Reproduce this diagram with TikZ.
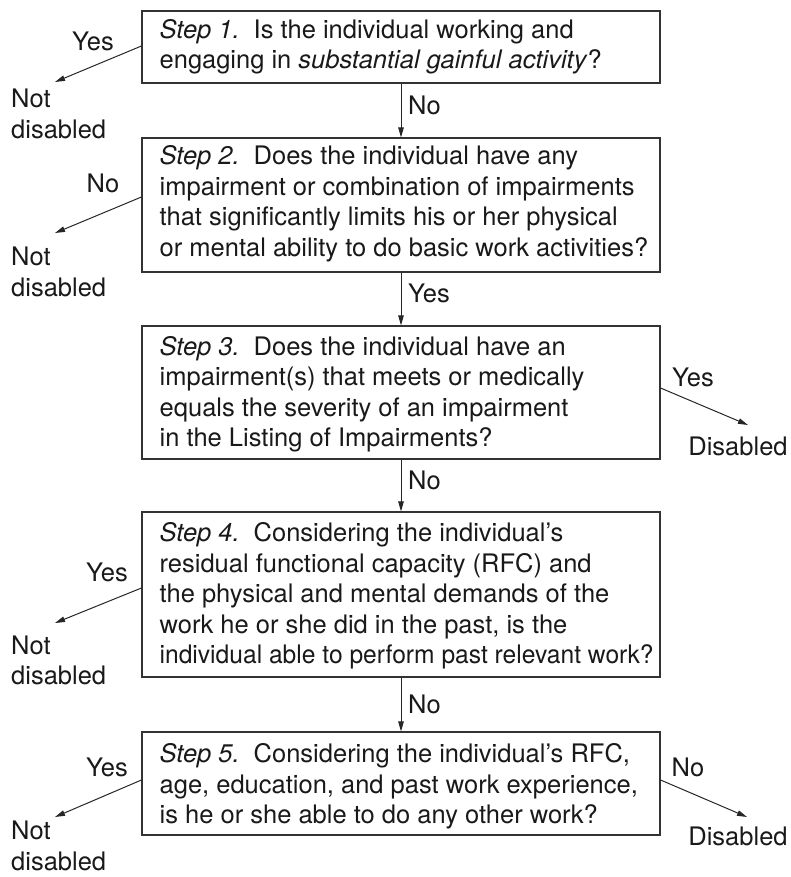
\documentclass[tikz,border=0pt]{standalone}
\usepackage{fontspec}
\usepackage{graphicx}
\setmainfont{TeX Gyre Heros}
\usetikzlibrary{arrows.meta}
\newcommand{\stp}[1]{\textit{Step #1.}\hspace{0.55em}}
\begin{document}
\begin{tikzpicture}[x=1pt,y=-1pt,
  every node/.style={font=\fontsize{25.5}{30.5}\selectfont, text=black!90},
  box/.style={draw=black!80, line width=1.1pt, minimum width=518pt, inner sep=0pt},
  txt/.style={anchor=west, align=left, inner sep=0pt},
  arr/.style={draw=black!85, line width=1pt, -{Triangle[length=10pt,width=5.5pt]}},
  lab/.style={inner sep=0pt},
  term/.style={inner sep=0pt, align=left}
]
\useasboundingbox (0,0) rectangle (790,877);

% boxes
\node[box, minimum height=72pt] (s1) at (401,47) {};
\node[box, minimum height=134pt] (s2) at (401,205) {};
\node[box, minimum height=133pt] (s3) at (401,392.5) {};
\node[box, minimum height=165pt] (s4) at (401,594.5) {};
\node[box, minimum height=103pt] (s5) at (401,783.5) {};

% box texts
\node[txt] (t1) at ([xshift=18pt]s1.west)
  {\stp{1}Is the individual working and\\engaging in \textit{substantial gainful activity}?};
\node[txt] (t2) at ([xshift=18pt,yshift=1pt]s2.west)
  {\stp{2}Does the individual have any\\impairment or combination of impairments\\that significantly limits his or her physical\\or mental ability to do basic work activities?};
\node[txt] (t3) at ([xshift=18pt,yshift=-2pt]s3.west)
  {\stp{3}Does the individual have an\\impairment(s) that meets or medically\\equals the severity of an impairment\\in the Listing of Impairments?};
\node[txt] (t4) at ([xshift=18pt,yshift=-1.5pt]s4.west)
  {\stp{4}Considering the individual's\\residual functional capacity (RFC) and\\the physical and mental demands of the\\work he or she did in the past, is the\\\scalebox{0.965}[1]{individual able to perform past relevant work?}};
\node[txt] (t5) at ([xshift=18pt,yshift=-3pt]s5.west)
  {\stp{5}Considering the individual's RFC,\\age, education, and past work experience,\\is he or she able to do any other work?};

% outcome nodes
\node[term, anchor=west] (n1) at (11,114) {Not\\disabled};
\node[term, anchor=west] (n2) at (11,272) {Not\\disabled};
\node[term, anchor=west] (n4) at (11,660.5) {Not\\disabled};
\node[term, anchor=west] (n5) at (11,846) {Not\\disabled};
\node[lab] (d3) at (738,446) {Disabled};
\node[lab] (d5) at (738,836) {Disabled};

% arrow end points
\coordinate (e1) at (55,82);
\coordinate (e2) at (55,233);
\coordinate (e3) at (748,425);
\coordinate (e4) at (55,623);
\coordinate (e5) at (55,817);
\coordinate (e5r) at (747,817);

% vertical connectors
\draw[arr] (s1.south) -- (s2.north);
\draw[arr] (s2.south) -- (s3.north);
\draw[arr] (s3.south) -- (s4.north);
\draw[arr] (s4.south) -- (s5.north);

\node[lab, anchor=west] at (408,105) {No};
\node[lab, anchor=west] at (408,293) {Yes};
\node[lab, anchor=west] at (408,480) {No};
\node[lab, anchor=west] at (408,704) {No};

% side connectors
\draw[arr] ([yshift=1pt]s1.west) -- (e1);
\draw[arr] ([yshift=8pt]s2.west) -- (e2);
\draw[arr] ([yshift=4.5pt]s3.east) -- (e3);
\draw[arr] ([yshift=6.5pt]s4.west) -- (e4);
\draw[arr] ([yshift=3.5pt]s5.west) -- (e5);
\draw[arr] ([yshift=3.5pt]s5.east) -- (e5r);

\node[lab] at (93,41) {Yes};
\node[lab] at (103,183) {No};
\node[lab] at (693,377) {Yes};
\node[lab] at (107,572) {Yes};
\node[lab] at (107,767) {Yes};
\node[lab] at (688,767) {No};
\end{tikzpicture}
\end{document}
